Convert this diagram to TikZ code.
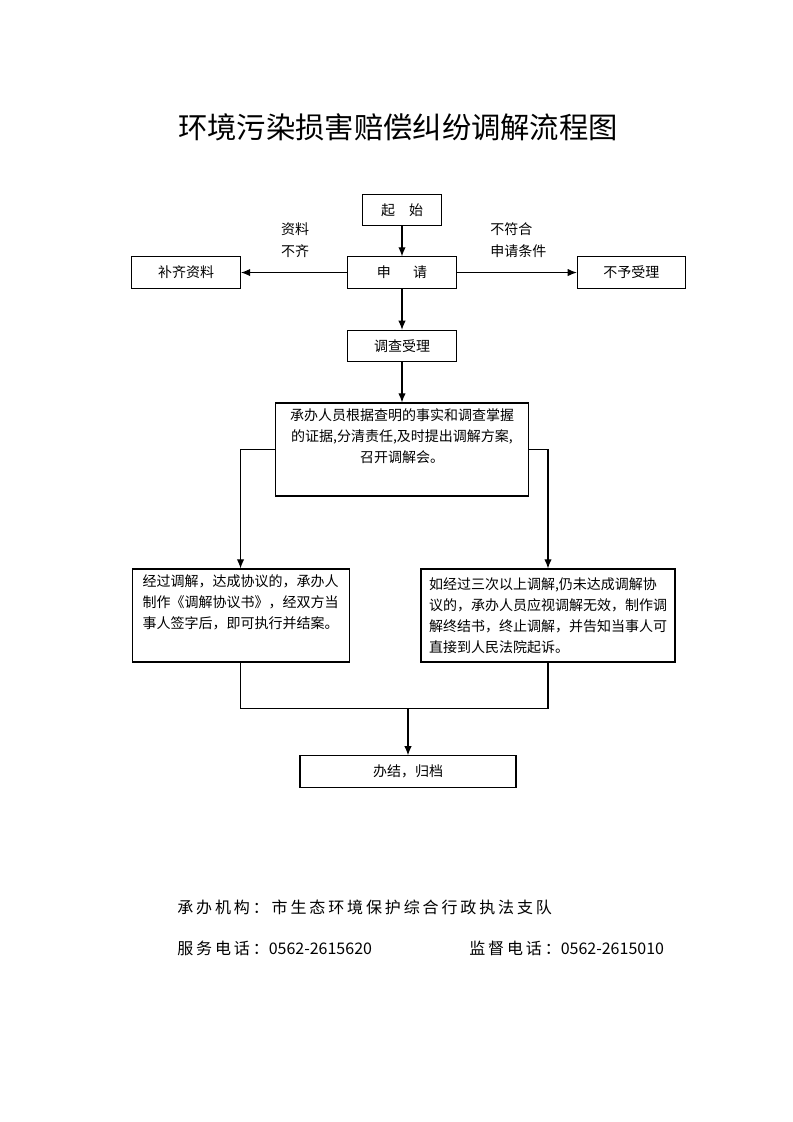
\documentclass[tikz,border=0pt]{standalone}
\usepackage{fontspec}
\setmainfont{Noto Sans CJK SC}
\newfontfamily\widefont[LetterSpace=18]{Noto Sans CJK SC}
\usepackage{xcolor}
\usetikzlibrary{shapes.geometric, arrows.meta}
\tikzstyle{process} = [rectangle, minimum height=23.5pt, align=center, draw=black, line width=0.8pt, font=\fontsize{10.5pt}{15.75pt}\selectfont]
\tikzstyle{textbox} = [process, minimum height=69.75pt, align=left]
\tikzstyle{note} = [align=left, inner sep=0pt, font=\fontsize{10.5pt}{16.5pt}\selectfont]
\tikzstyle{footer} = [anchor=west, inner sep=0pt, font=\fontsize{12pt}{14pt}\selectfont]
\tikzstyle{arrow} = [line width=0.8pt,->,>={Latex[length=6.8pt,width=5.5pt]}]
\tikzstyle{wire} = [line width=0.8pt]

\begin{document}
\begin{tikzpicture}[x=0.75pt, y=-0.75pt]
    \useasboundingbox (0,0) rectangle (793,1122);
    \node (title) at (398,127) [font=\fontsize{22pt}{26pt}\selectfont]{环境污染损害赔偿纠纷调解流程图};

    \node (start) at (402,210) [process, minimum width=59.25pt]{起\hspace{1em}始};
    \node (apply) [process, minimum width=81.75pt, node distance=46.9pt, below of=start]{申\hspace{1.6em}请};
    \node (survey) [process, minimum width=81.75pt, node distance=55.1pt, below of=apply]{调查受理};
    \node (plan) [process, minimum width=189.75pt, minimum height=69.75pt, node distance=77.6pt, below of=survey]{承办人员根据查明的事实和调查掌握\\的证据,分清责任,及时提出调解方案,\\召开调解会。\\ \strut};
    \node (fill) [process, minimum width=81.75pt, node distance=162pt, left of=apply]{补齐资料};
    \node (reject) [process, minimum width=81pt, node distance=172pt, right of=apply]{不予受理};
    \node (lack) at (295,240) [note]{资料\\不齐};
    \node (unfit) at (490,240) [note, anchor=west]{不符合\\申请条件};
    \node (agree) [textbox, minimum width=162.75pt, node distance=124.5pt, below of=plan, xshift=-121.1pt]{经过调解，达成协议的，承办人\\制作《调解协议书》，经双方当\\事人签字后，即可执行并结案。\\ \strut};
    \node (fail) [textbox, minimum width=190.5pt, node distance=124.5pt, below of=plan, xshift=109.5pt]{如经过三次以上调解,仍未达成调解协\\议的，承办人员应视调解无效，制作调\\解终结书，终止调解，并告知当事人可\\直接到人民法院起诉。};
    \node (done) [process, minimum width=162pt, node distance=241.5pt, below of=plan, xshift=4.5pt]{办结，归档};
    \coordinate [node distance=46.9pt, above of=done] (merge);

    \draw[arrow] (start) -- (apply);
    \draw[arrow] (apply) -- (fill);
    \draw[arrow] (apply) -- (reject);
    \draw[arrow] (apply) -- (survey);
    \draw[arrow] (survey) -- (plan);
    \draw[arrow] (plan.west) -| (agree.north);
    \draw[arrow] (plan.east) -| (fail.north);
    \draw[wire] (agree.south) |- (merge) -| (fail.south);
    \draw[arrow] (merge) -- (done);

    \node (org) at (177,907) [footer]{{\widefont 承办机构：市生态环境保护综合行政执法支队}};
    \node (tel) at (177,948) [footer]{{\widefont 服务电话：}0562-2615620};
    \node (sup) at (469,948) [footer]{{\widefont 监督电话：}0562-2615010};
\end{tikzpicture}
\end{document}
